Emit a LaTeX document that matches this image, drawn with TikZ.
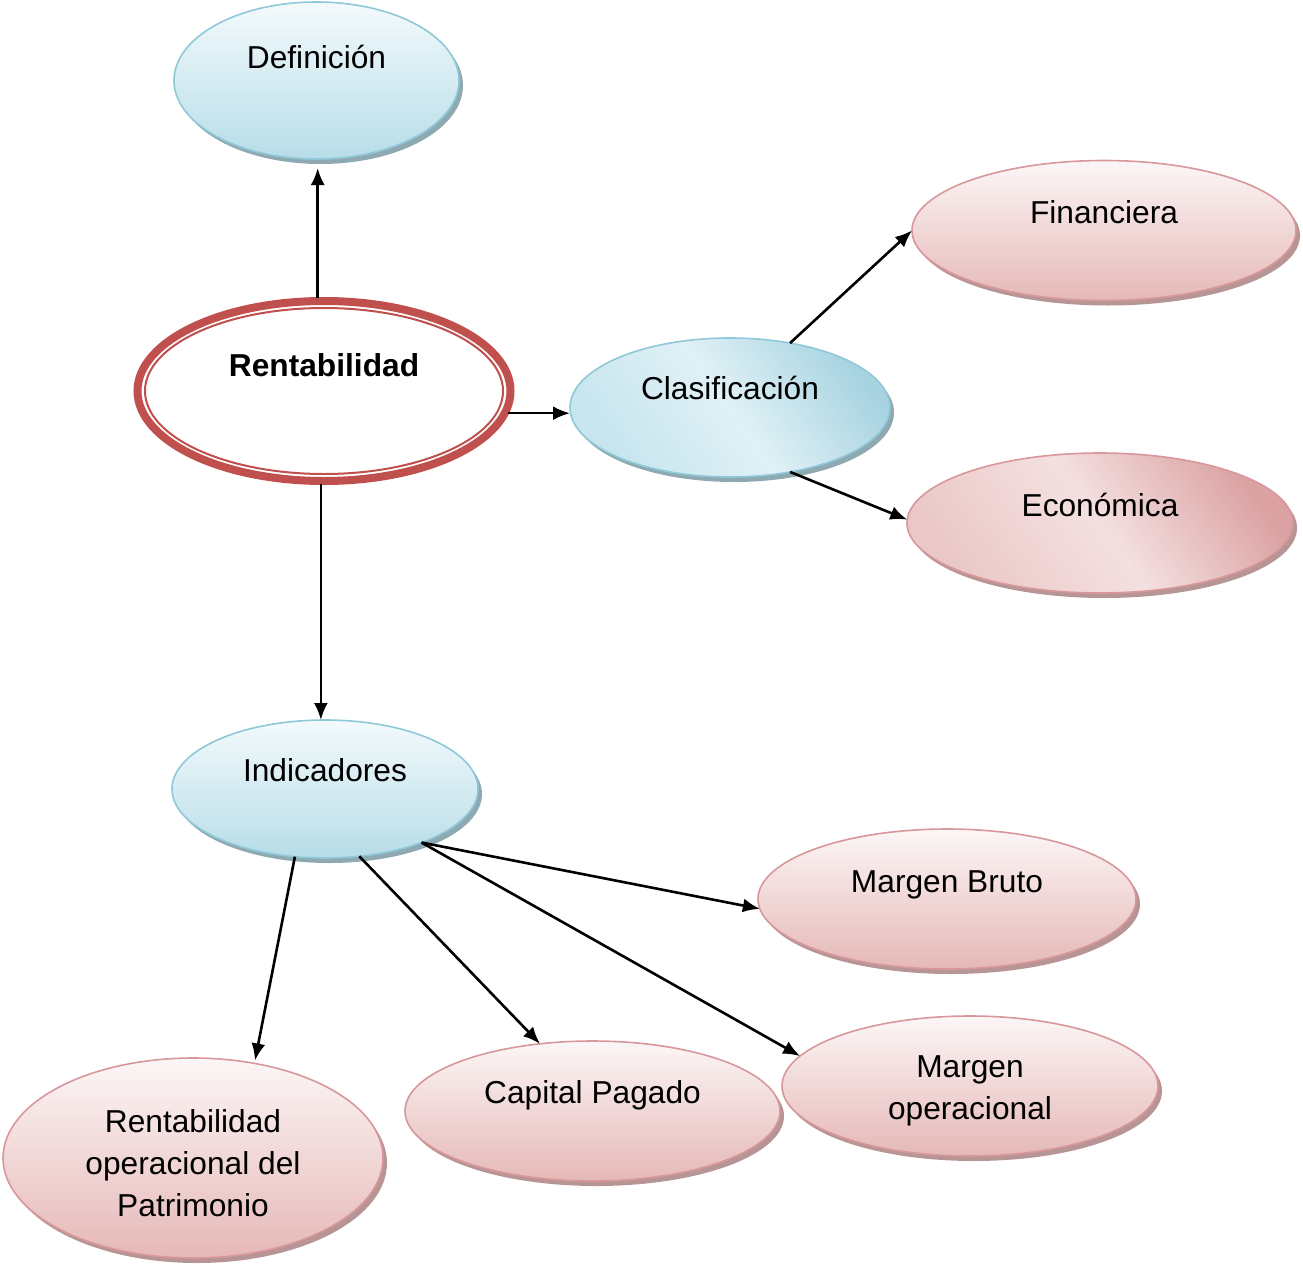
\documentclass[tikz,border=0pt]{standalone}
\usepackage{fontspec}
\setmainfont{Liberation Sans}
\usetikzlibrary{shapes.geometric,shadows,arrows.meta}

% palette
\definecolor{blueedge}{HTML}{8FC8D8}
\definecolor{bluetop}{HTML}{F3FAFC}
\definecolor{bluebot}{HTML}{B7DDE8}
\definecolor{bluelight}{HTML}{E0F1F6}
\definecolor{bluemid}{HTML}{C6E5EE}
\definecolor{bluedark}{HTML}{A8D4E1}
\definecolor{blueshadow}{HTML}{8FA9B2}
\definecolor{pinkedge}{HTML}{D8979A}
\definecolor{pinktop}{HTML}{FCF6F6}
\definecolor{pinkbot}{HTML}{E6B8B8}
\definecolor{pinklight}{HTML}{F4E0E0}
\definecolor{pinkmid}{HTML}{EBC8C8}
\definecolor{pinkdark}{HTML}{DCA2A3}
\definecolor{pinkshadow}{HTML}{B89595}
\definecolor{rentred}{HTML}{C0504D}

\begin{document}
\begin{tikzpicture}[x=1pt,y=-1pt,
  bubble/.style={ellipse, inner sep=0pt, outer sep=0pt, line width=1.6pt},
  bluebub/.style={bubble, draw=blueedge, top color=bluetop, bottom color=bluebot,
    drop shadow={shadow xshift=4pt, shadow yshift=-5pt, fill=blueshadow, opacity=1}},
  bluediag/.style={bubble, draw=blueedge, top color=bluedark, bottom color=bluemid,
    middle color=bluelight, shading angle=-55,
    drop shadow={shadow xshift=4pt, shadow yshift=-5pt, fill=blueshadow, opacity=1}},
  pinkbub/.style={bubble, draw=pinkedge, top color=pinktop, bottom color=pinkbot,
    drop shadow={shadow xshift=4pt, shadow yshift=-5pt, fill=pinkshadow, opacity=1}},
  pinkdiag/.style={bubble, draw=pinkedge, top color=pinkdark, bottom color=pinkmid,
    middle color=pinklight, shading angle=-55,
    drop shadow={shadow xshift=4pt, shadow yshift=-5pt, fill=pinkshadow, opacity=1}},
  txt/.style={font=\fontsize{31.7pt}{42pt}\selectfont, inner sep=0pt, anchor=base},
  mtxt/.style={font=\fontsize{31.7pt}{42pt}\selectfont, inner sep=0pt, anchor=north, align=center},
  link/.style={line width=2.6pt, -{Latex[length=17pt,width=14pt]}}
]
\useasboundingbox (0,0) rectangle (1303,1269);

% bubbles
\node[bluebub, minimum width=285pt, minimum height=157pt] (def) at (316.5,80.5) {};
\node[bluediag, minimum width=320pt, minimum height=139pt] (clas) at (730,407.5) {};
\node[pinkbub, minimum width=384pt, minimum height=140pt] (fin) at (1104,230.5) {};
\node[pinkdiag, minimum width=386pt, minimum height=140pt] (eco) at (1100,523) {};
\node[bluebub, minimum width=306pt, minimum height=138pt] (ind) at (325,789) {};
\node[pinkbub, minimum width=378pt, minimum height=140pt] (mb) at (947,899) {};
\node[pinkbub, minimum width=380pt, minimum height=200pt] (rop) at (193,1158) {};
\node[pinkbub, minimum width=375pt, minimum height=140pt] (cp) at (592.5,1111) {};
\node[pinkbub, minimum width=376pt, minimum height=140pt] (mo) at (970,1086) {};

% central topic: thick ring with a thin inner ring
\node[ellipse, draw=rentred, fill=white, line width=8pt, inner sep=0pt, outer sep=0pt,
      minimum width=373pt, minimum height=180pt] (rent) at (324,391) {};
\draw[rentred, line width=2pt] (rent.center) ellipse [x radius=179, y radius=83];

% captions
\node[txt] (tdef) at ([yshift=12.5pt]def.center) {Definición};
\node[txt, font=\fontsize{31.7pt}{42pt}\selectfont\bfseries] (trent) at ([yshift=15pt]rent.center) {Rentabilidad};
\node[txt] (tclas) at ([yshift=8.5pt]clas.center) {Clasificación};
\node[txt] (tfin) at ([yshift=7.5pt]fin.center) {Financiera};
\node[txt] (teco) at ([yshift=7pt]eco.center) {Económica};
\node[txt] (tind) at ([yshift=8pt]ind.center) {Indicadores};
\node[txt] (tmb) at ([yshift=7pt]mb.center) {Margen Bruto};
\node[txt] (tcp) at ([yshift=8pt]cp.center) {Capital Pagado};
\node[mtxt] (tmo) at ([yshift=31pt]mo.center) {Margen\\operacional};
\node[mtxt] (trop) at ([yshift=49pt]rop.center) {Rentabilidad\\operacional del\\Patrimonio};

% connectors
\draw[link, shorten <=3pt, shorten >=9pt] (rent.94) -- (rent.94 |- def.south);
\draw[link, shorten <=3pt] (rent.-7) -- (rent.-7 -| clas.west);
\draw[link, shorten <=3pt] (rent.-92) -- (rent.-92 |- ind.north);
\draw[link] (clas.47) -- (fin.west);
\draw[link] (clas.-47) -- (eco.179);
\draw[link] (ind.-29) -- (mb.183);
\draw[link] (ind.-29) -- (mo.170);
\draw[link] (ind.-63) -- (cp.128);
\draw[link, shorten >=3pt] (ind.-114) -- (rop.57);
\end{tikzpicture}
\end{document}
